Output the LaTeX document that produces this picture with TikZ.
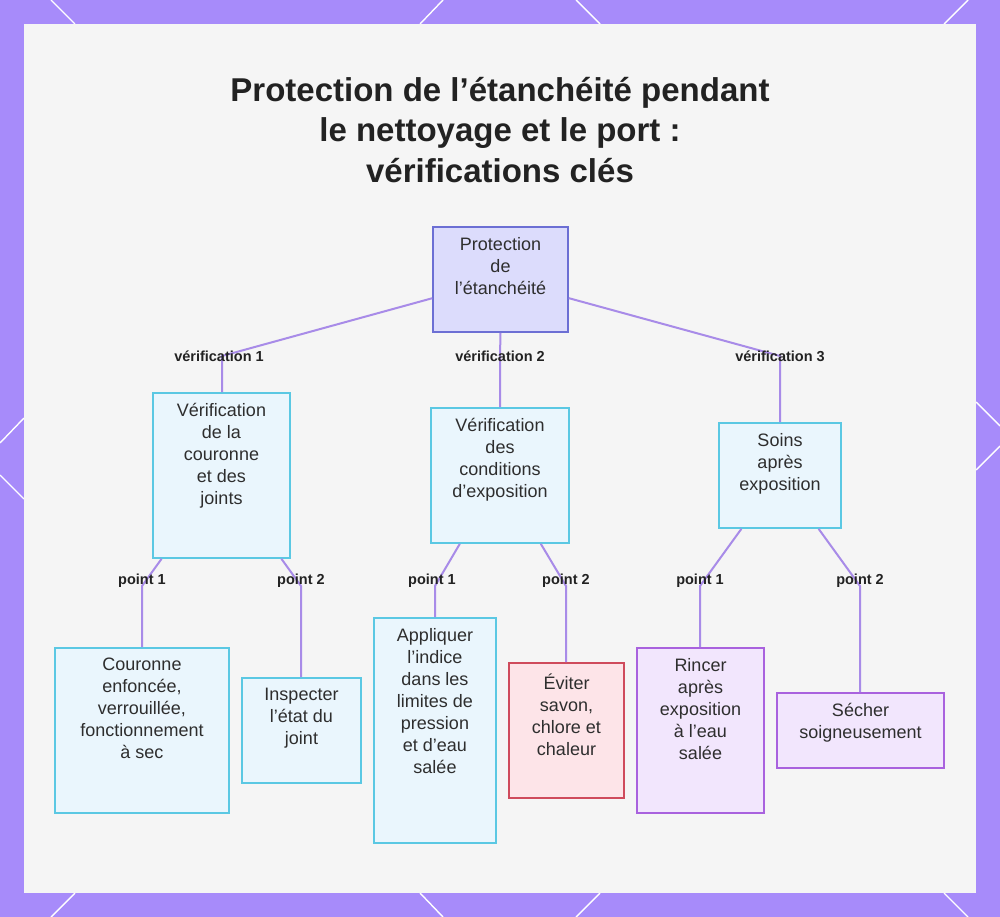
\documentclass[tikz,border=0pt]{standalone}
\usepackage{fontspec}
\setmainfont{Liberation Sans}
\definecolor{framec}{HTML}{A78BFA}
\definecolor{panelc}{HTML}{F5F5F5}
\definecolor{connc}{HTML}{A88BE8}
\definecolor{rootf}{HTML}{DCDCFC}
\definecolor{rootb}{HTML}{6C6FD4}
\definecolor{cyanf}{HTML}{EAF6FD}
\definecolor{cyanb}{HTML}{5BC8E3}
\definecolor{redf}{HTML}{FDE4E8}
\definecolor{redb}{HTML}{CF4B5C}
\definecolor{purf}{HTML}{F2E6FD}
\definecolor{purb}{HTML}{A962DE}
\definecolor{textc}{HTML}{2E2E2E}
\definecolor{labc}{HTML}{222222}
\begin{document}
\begin{tikzpicture}[x=1pt,y=-1pt,
  conn/.style={draw=connc, line width=2pt},
  box/.style={rectangle, line width=1.6pt, inner sep=0pt},
  rootbox/.style={box, draw=rootb, fill=rootf},
  cyanbox/.style={box, draw=cyanb, fill=cyanf},
  redbox/.style={box, draw=redb, fill=redf},
  purbox/.style={box, draw=purb, fill=purf},
  txt/.style={anchor=north, inner sep=0pt, align=center, text=textc, font=\fontsize{18}{22}\selectfont},
  lab/.style={inner sep=0pt, text=labc, font=\bfseries\fontsize{14.5}{17}\selectfont},
  frameline/.style={draw=white, line width=1.4pt}]
\useasboundingbox (0,0) rectangle (1000,917);
% frame
\fill[framec] (0,0) rectangle (1000,917);
\draw[frameline] (51,0) -- (75,24) (443,0) -- (420,24) (576,0) -- (600,24) (968,0) -- (944,24);
\draw[frameline] (75,893) -- (51,917) (420,893) -- (443,917) (600,893) -- (576,917) (944,893) -- (968,917);
\draw[frameline] (24,418) -- (0,443) (0,475) -- (24,499);
\draw[frameline] (976,402) -- (1000,426) (1000,446) -- (976,470);
\fill[panelc] (24,24) rectangle (976,893);
% title
\node[anchor=north, align=center, inner sep=0pt, text=labc, font=\bfseries\fontsize{33}{40.5}\selectfont] (title) at (500,77)
  {Protection de l’étanchéité pendant\\le nettoyage et le port :\\vérifications clés};
% boxes
\node[rootbox, minimum width=135pt, minimum height=105pt] (root) at (500.5,279.5) {};
\node[cyanbox, minimum width=137pt, minimum height=165pt] (A) at (221.5,475.5) {};
\node[cyanbox, minimum width=138pt, minimum height=135pt] (B) at (500,475.5) {};
\node[cyanbox, minimum width=122pt, minimum height=105pt] (C) at (780,475.5) {};
\node[cyanbox, minimum width=174pt, minimum height=165pt] (D) at (142,730.5) {};
\node[cyanbox, minimum width=119pt, minimum height=105pt] (E) at (301.5,730.5) {};
\node[cyanbox, minimum width=122pt, minimum height=225pt] (F) at (435,730.5) {};
\node[redbox, minimum width=115pt, minimum height=135pt] (G) at (566.5,730.5) {};
\node[purbox, minimum width=127pt, minimum height=165pt] (H) at (700.5,730.5) {};
\node[purbox, minimum width=167pt, minimum height=75pt] (I) at (860.5,730.5) {};
% texts
\node[txt] (roott) at ([yshift=-11pt]root.north) {Protection\\de\\l’étanchéité};
\node[txt] (At) at ([yshift=-11pt]A.north) {Vérification\\de la\\couronne\\et des\\joints};
\node[txt] (Bt) at ([yshift=-11pt]B.north) {Vérification\\des\\conditions\\d’exposition};
\node[txt] (Ct) at ([yshift=-11pt]C.north) {Soins\\après\\exposition};
\node[txt] (Dt) at ([yshift=-11pt]D.north) {Couronne\\enfoncée,\\verrouillée,\\fonctionnement\\à sec};
\node[txt] (Et) at ([yshift=-11pt]E.north) {Inspecter\\l’état du\\joint};
\node[txt] (Ft) at ([yshift=-11pt]F.north) {Appliquer\\l’indice\\dans les\\limites de\\pression\\et d’eau\\salée};
\node[txt] (Gt) at ([yshift=-11pt]G.north) {Éviter\\savon,\\chlore et\\chaleur};
\node[txt] (Ht) at ([yshift=-11pt]H.north) {Rincer\\après\\exposition\\à l’eau\\salée};
\node[txt] (It) at ([yshift=-11pt]I.north) {Sécher\\soigneusement};
% bend points
\coordinate (v1) at (222,356);
\coordinate (v2) at (500,356);
\coordinate (v3) at (780,356);
\coordinate (pA1) at (142,586);
\coordinate (pA2) at (301,586);
\coordinate (pB1) at (435,586);
\coordinate (pB2) at (566,586);
\coordinate (pC1) at (700,586);
\coordinate (pC2) at (860,586);
% connectors
\draw[conn] (root) -- (v1) -- (v1 |- A.north);
\draw[conn] (root.south) -- (v2) -- (v2 |- B.north);
\draw[conn] (root) -- (v3) -- (v3 |- C.north);
\draw[conn] (A) -- (pA1) -- (pA1 |- D.north);
\draw[conn] (A) -- (pA2) -- (pA2 |- E.north);
\draw[conn] (B) -- (pB1) -- (pB1 |- F.north);
\draw[conn] (B) -- (pB2) -- (pB2 |- G.north);
\draw[conn] (C) -- (pC1) -- (pC1 |- H.north);
\draw[conn] (C) -- (pC2) -- (pC2 |- I.north);
% labels
\node[lab] (l1) at ([xshift=-3pt]v1) {vérification 1};
\node[lab] (l2) at (v2) {vérification 2};
\node[lab] (l3) at (v3) {vérification 3};
\node[lab, yshift=5pt] (la1) at (pA1) {point 1};
\node[lab, yshift=5pt] (la2) at (pA2) {point 2};
\node[lab, yshift=5pt] (lb1) at ([xshift=-3pt]pB1) {point 1};
\node[lab, yshift=5pt] (lb2) at (pB2) {point 2};
\node[lab, yshift=5pt] (lc1) at (pC1) {point 1};
\node[lab, yshift=5pt] (lc2) at (pC2) {point 2};
\end{tikzpicture}
\end{document}
